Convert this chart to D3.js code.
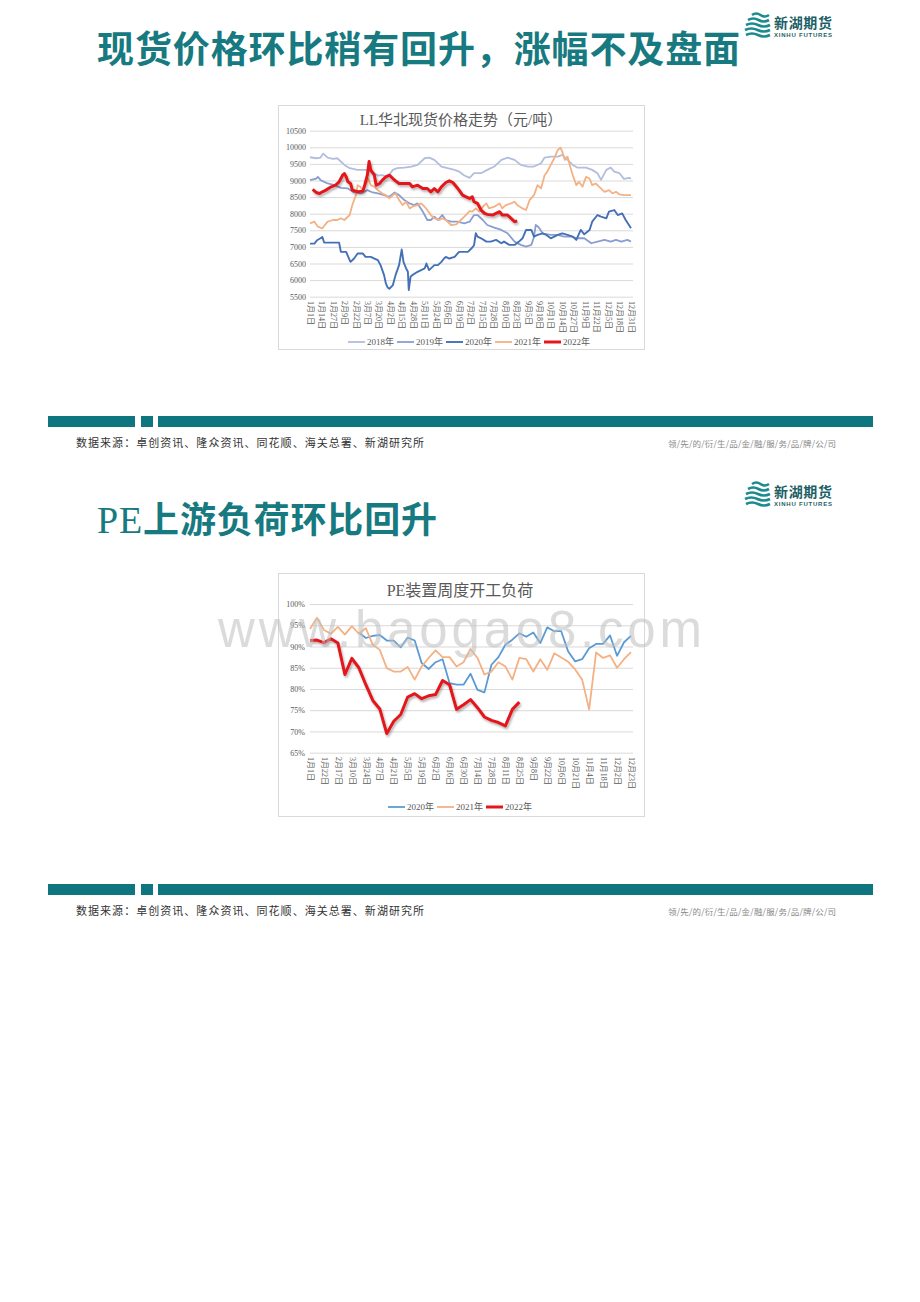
<!DOCTYPE html>
<html><head><meta charset="utf-8">
<script src="https://cdn.jsdelivr.net/npm/d3@7"></script>
<style>body{margin:0;background:#fff}</style>
</head><body>
<svg id="page" width="920" height="1302"></svg>
<script>
// ---------------- DATA ----------------
const pageTitle1 = "现货价格环比稍有回升，涨幅不及盘面";
const pageTitle2Latin = "PE";
const pageTitle2Rest = "上游负荷环比回升";
const sourceText = "数据来源：卓创资讯、隆众资讯、同花顺、海关总署、新湖研究所";
const sloganText = "领/先/的/衍/生/品/金/融/服/务/品/牌/公/司";
const watermarkText = "www.baogao8.com";

// Chart 1: LL华北现货价格走势 (day of year, 元/吨)
const c1Title = "LL华北现货价格走势（元/吨）";
const c1TickLabels = ["1月1日","1月14日","1月27日","2月9日","2月22日","3月7日","3月20日","4月2日","4月15日","4月28日","5月11日","5月24日","6月6日","6月19日","7月2日","7月15日","7月28日","8月10日","8月23日","9月5日","9月18日","10月1日","10月14日","10月27日","11月9日","11月22日","12月5日","12月18日","12月31日"];
const c1YTicks = [5500,6000,6500,7000,7500,8000,8500,9000,9500,10000,10500];
const c1Names = ["2018年","2019年","2020年","2021年","2022年"];
const s2018 = [[0,9700],[7,9670],[12,9690],[15,9810],[20,9690],[26,9650],[31,9670],[39,9470],[45,9370],[54,9320],[63,9320],[69,9270],[73,9220],[77,9150],[82,9160],[88,9110],[94,9320],[99,9370],[107,9390],[115,9420],[122,9470],[130,9670],[135,9690],[141,9620],[149,9420],[156,9370],[164,9320],[169,9270],[175,9150],[181,9080],[186,9220],[194,9220],[201,9320],[209,9420],[217,9620],[224,9690],[232,9620],[239,9470],[247,9420],[254,9420],[262,9520],[266,9690],[273,9720],[281,9720],[286,9770],[292,9620],[298,9470],[303,9390],[313,9390],[320,9320],[326,9220],[330,9020],[336,9320],[341,9390],[345,9270],[351,9220],[356,9050],[362,9080],[364,9050]];
const s2019 = [[0,9010],[7,9060],[9,9110],[12,9010],[20,8910],[28,8860],[35,8780],[43,8760],[50,8640],[58,8610],[65,8710],[71,8640],[77,8610],[84,8560],[90,8510],[96,8640],[101,8560],[107,8410],[113,8310],[118,8260],[122,8310],[128,8060],[133,7810],[137,7810],[141,7910],[145,7810],[150,7960],[154,7810],[160,7760],[167,7760],[175,7710],[181,7760],[186,7960],[190,7960],[196,7810],[201,7660],[209,7580],[217,7510],[224,7410],[232,7160],[239,7060],[245,7010],[251,7060],[254,7300],[256,7660],[259,7600],[264,7400],[273,7360],[281,7360],[288,7310],[296,7310],[303,7260],[311,7260],[319,7110],[326,7160],[334,7210],[341,7160],[347,7210],[353,7160],[360,7210],[364,7160]];
const s2020 = [[0,7100],[5,7100],[8,7200],[12,7260],[14,7300],[16,7130],[24,7130],[33,7130],[35,6850],[41,6850],[45,6600],[46,6550],[50,6650],[54,6800],[60,6800],[63,6700],[69,6700],[73,6650],[77,6600],[80,6450],[84,6150],[86,5900],[88,5780],[90,5740],[94,5850],[97,6150],[101,6450],[104,6920],[106,6550],[109,6350],[111,6250],[112,5700],[114,6100],[116,6150],[122,6250],[126,6300],[130,6350],[132,6500],[135,6300],[141,6450],[145,6450],[149,6550],[152,6650],[154,6700],[158,6650],[164,6700],[169,6850],[179,6850],[183,6950],[186,7050],[188,7410],[190,7310],[194,7260],[200,7160],[205,7160],[211,7210],[217,7110],[220,7160],[226,7060],[232,7060],[237,7160],[241,7260],[245,7510],[251,7510],[254,7310],[258,7360],[264,7410],[268,7360],[273,7260],[281,7360],[286,7410],[292,7360],[298,7310],[302,7210],[307,7510],[311,7380],[317,7510],[320,7760],[326,7960],[330,7910],[336,7860],[339,8060],[345,8110],[349,7960],[354,8010],[358,7810],[364,7560]];
const s2021 = [[0,7710],[5,7760],[9,7610],[14,7560],[20,7760],[26,7810],[31,7810],[35,7860],[39,7810],[45,7960],[48,8260],[52,8560],[54,8860],[57,8810],[60,8710],[63,8860],[66,9060],[69,8860],[73,8810],[77,8710],[82,8610],[86,8560],[90,8460],[94,8560],[97,8610],[101,8410],[105,8260],[109,8360],[113,8160],[116,8210],[122,8260],[126,8310],[130,8210],[133,8110],[137,7960],[141,7860],[147,7810],[150,7860],[154,7810],[160,7660],[166,7680],[171,7810],[175,7910],[181,8080],[184,8060],[188,8160],[192,8060],[196,8210],[200,8310],[203,8160],[209,8210],[215,8310],[218,8160],[222,8260],[228,8310],[232,8360],[235,8260],[241,8160],[245,8110],[249,8410],[254,8560],[258,8860],[262,8760],[266,9160],[269,9260],[273,9470],[277,9670],[281,9920],[284,9990],[286,9870],[289,9620],[292,9720],[295,9420],[298,9160],[302,8860],[305,8960],[309,8810],[313,9110],[317,9060],[320,8860],[324,8910],[328,8810],[334,8660],[339,8710],[343,8610],[347,8660],[351,8580],[356,8560],[364,8560]];
const s2022 = [[3,8730],[7,8640],[11,8610],[14,8660],[18,8710],[24,8810],[29,8860],[33,8960],[37,9160],[39,9210],[41,9110],[43,8960],[46,8910],[48,8710],[54,8660],[60,8680],[62,8860],[65,9160],[67,9570],[69,9310],[73,9160],[75,8860],[79,8910],[82,9010],[86,9110],[90,9160],[94,9060],[97,8990],[101,8910],[107,8910],[113,8910],[116,8810],[122,8860],[128,8760],[133,8760],[137,8660],[141,8760],[145,8660],[149,8810],[154,8940],[158,8990],[162,8940],[166,8810],[169,8710],[173,8560],[177,8510],[181,8460],[184,8510],[186,8360],[190,8310],[194,8110],[198,8010],[201,7980],[207,7960],[211,8010],[215,8060],[218,7960],[224,7960],[228,7860],[232,7760],[235,7780]];

// Chart 2: PE装置周度开工负荷 (weekly, %)
const c2Title = "PE装置周度开工负荷";
const c2Categories = ["1月1日","1月15日","1月22日","1月29日","2月17日","2月24日","3月10日","3月17日","3月24日","3月31日","4月7日","4月14日","4月21日","4月28日","5月5日","5月12日","5月19日","5月26日","6月2日","6月9日","6月16日","6月23日","6月30日","7月7日","7月14日","7月21日","7月28日","8月4日","8月11日","8月18日","8月25日","9月1日","9月8日","9月15日","9月22日","9月29日","10月6日","10月14日","10月21日","10月28日","11月4日","11月11日","11月18日","11月25日","12月2日","12月9日","12月23日"];
const c2TickLabels = c2Categories.filter((d,i)=>i%2===0);
const c2YTicks = [65,70,75,80,85,90,95,100];
const c2Names = ["2020年","2021年","2022年"];
const p2020 = [null,null,null,null,null,null,null,93.3,92.0,92.5,92.7,91.4,91.4,89.8,92.1,91.4,86.1,84.7,86.3,87.0,81.4,81.0,81.0,83.6,79.8,79.2,85.7,87.5,90.4,91.6,93.1,92.3,93.3,90.8,94.5,93.6,93.6,88.8,86.5,87.0,89.6,90.6,90.6,92.6,87.8,91.0,92.5];
const p2021 = [94.1,96.8,93.9,93.0,94.6,92.8,94.8,93.0,94.3,90.4,89.2,84.9,84.1,84.1,85.2,82.2,85.3,87.3,89.1,87.5,87.5,85.3,86.3,89.4,87.3,83.4,84.1,86.3,85.3,82.2,87.3,87.0,84.1,87.0,84.5,88.4,87.4,86.4,84.6,82.2,75.2,88.6,87.3,87.9,85.0,87.0,88.7];
const p2022 = [91.4,91.5,90.9,91.8,90.8,83.4,87.2,85.0,81.0,77.3,75.3,69.5,72.4,74.0,78.1,78.9,77.7,78.4,78.7,82.0,81.0,75.2,76.3,77.5,75.6,73.4,72.6,72.1,71.3,75.2,76.9];

// ---------------- DRAWING ----------------
const svg = d3.select('#page');
svg.append('rect').attr('width',920).attr('height',1302).attr('fill','#fff');
const defs = svg.append('defs');
const flt = defs.append('filter').attr('id','shadow').attr('x','-5%').attr('y','-10%').attr('width','115%').attr('height','130%');
flt.append('feDropShadow').attr('dx',1.2).attr('dy',2).attr('stdDeviation',1.2).attr('flood-color','#000').attr('flood-opacity',0.3);

const TEAL = '#0f7680';
const SERIF = "'Liberation Serif','Noto Sans CJK SC',serif";
const SANS = "'Noto Sans CJK SC','Noto Sans',sans-serif";

function drawLogo(oy){
  const g = svg.append('g').attr('transform',`translate(0,${oy})`);
  const waves = [[752,769,15],[748,769,20],[746,770,25],[745,770,30],[746,770,35]];
  waves.forEach(w=>{
    const [x0,x1,y]=w; const m=(x0+x1)/2;
    g.append('path').attr('d',`M${x0},${y} Q${(x0+m)/2},${y-3} ${m},${y} T${x1},${y}`)
      .attr('fill','none').attr('stroke','#1c8a8e').attr('stroke-width',2.6);
  });
  g.append('text').attr('x',774).attr('y',28).text('新湖期货').attr('font-family',SANS).attr('font-weight',700)
    .attr('font-size',14).attr('fill','#1d5f66').attr('textLength',58);
  g.append('text').attr('x',774).attr('y',36.5).text('XINHU FUTURES').attr('font-family',"'Liberation Sans',sans-serif").attr('font-weight',700)
    .attr('font-size',6).attr('fill','#1d5f66').attr('textLength',58);
}

function drawFooter(oy){
  [[48,135],[141,153],[158,873]].forEach(s=>{
    svg.append('rect').attr('x',s[0]).attr('y',416+oy).attr('width',s[1]-s[0]).attr('height',11).attr('fill',TEAL);
  });
  svg.append('text').attr('x',76).attr('y',447+oy).text(sourceText).attr('font-family',SERIF)
    .attr('font-size',11).attr('fill','#333').attr('textLength',348);
  svg.append('text').attr('x',668).attr('y',447+oy).text(sloganText).attr('font-family',SANS)
    .attr('font-size',8.5).attr('fill','#888').attr('textLength',168);
}

function drawLegend(cx, y, names, colors, widths){
  const g = svg.append('g');
  const items = names.map((n,i)=>{
    const it = g.append('g');
    it.append('line').attr('x1',0).attr('x2',17).attr('y1',0).attr('y2',0).attr('stroke',colors[i]).attr('stroke-width',widths[i]);
    const t = it.append('text').attr('x',19).attr('y',0).attr('dy','0.35em').text(n).attr('font-family',SERIF).attr('font-size',9).attr('fill','#595959');
    return {it, w: 19 + t.node().getComputedTextLength()};
  });
  const gap = 3;
  const total = d3.sum(items, d=>d.w) + gap*(items.length-1);
  let x = cx - total/2;
  items.forEach(d=>{ d.it.attr('transform',`translate(${x},${y})`); x += d.w + gap; });
}

// Section 1
svg.append('text').attr('x',97).attr('y',63).text(pageTitle1).attr('font-family',SANS).attr('font-weight',700)
  .attr('font-size',37).attr('fill','#177a80').attr('textLength',643).attr('lengthAdjust','spacing');
drawLogo(0);
svg.append('rect').attr('x',278.5).attr('y',105.5).attr('width',366).attr('height',244).attr('fill','#fff').attr('stroke','#d9d9d9');
svg.append('text').attr('x',461).attr('y',125).attr('text-anchor','middle').text(c1Title).attr('font-family',SERIF)
  .attr('font-size',15).attr('fill','#595959');

const x1 = d3.scaleLinear().domain([0,364]).range([310,631]);
const y1 = d3.scaleLinear().domain([5500,10500]).range([296.7,130.7]);
const g1 = svg.append('g');
g1.append('g').attr('transform','translate(310,0)')
  .call(d3.axisLeft(y1).tickValues(c1YTicks).tickSize(-323).tickFormat(d3.format('d')))
  .call(g=>{ g.select('.domain').remove();
    g.selectAll('.tick line').attr('stroke','#d9d9d9');
    g.selectAll('.tick text').attr('x',-4).attr('font-family',SERIF).attr('font-size',8).attr('fill','#595959'); });
g1.append('g').attr('transform','translate(0,297)')
  .call(d3.axisBottom(x1).tickValues(c1TickLabels.map((d,i)=>i*13)).tickSize(0).tickFormat((d,i)=>c1TickLabels[i]))
  .call(g=>{ g.select('.domain').remove();
    g.selectAll('.tick text').attr('transform','rotate(90)').attr('text-anchor','start').attr('x',4).attr('y',0).attr('dy','0.35em')
      .attr('font-family',SERIF).attr('font-size',8).attr('fill','#595959'); });

const c1Colors = ['#b3bedf','#8b9dd1','#4470b8','#f4b183','#e3171c'];
const c1Widths = [1.8,1.8,1.9,1.8,3];
const line1 = d3.line().x(d=>x1(d[0])).y(d=>y1(d[1]));
[s2018,s2019,s2020,s2021,s2022].forEach((s,i)=>{
  const p = g1.append('path').datum(s).attr('d',line1).attr('fill','none').attr('stroke',c1Colors[i])
    .attr('stroke-width',c1Widths[i]).attr('stroke-linejoin','round');
  if(i===4) p.attr('filter','url(#shadow)');
});
drawLegend(469, 342, c1Names, c1Colors, c1Widths);
drawFooter(0);

// Section 2
const t2 = svg.append('text').attr('x',97).attr('y',533).attr('fill','#177a80');
t2.append('tspan').text(pageTitle2Latin).attr('font-family',SERIF).attr('font-size',38);
t2.append('tspan').text(pageTitle2Rest).attr('font-family',SANS).attr('font-weight',700).attr('font-size',36);
t2.attr('textLength',340).attr('lengthAdjust','spacing');
drawLogo(469);
svg.append('rect').attr('x',278.5).attr('y',573.5).attr('width',366).attr('height',243).attr('fill','#fff').attr('stroke','#d9d9d9');
svg.append('text').attr('x',460).attr('y',596).attr('text-anchor','middle').text(c2Title).attr('font-family',SERIF)
  .attr('font-size',16).attr('fill','#595959');

const x2 = d3.scalePoint().domain(c2Categories).range([310,631]);
const y2 = d3.scaleLinear().domain([65,100]).range([752.7,604]);
const g2 = svg.append('g');
g2.append('g').attr('transform','translate(310,0)')
  .call(d3.axisLeft(y2).tickValues(c2YTicks).tickSize(-323).tickFormat(d=>d+'%'))
  .call(g=>{ g.select('.domain').remove();
    g.selectAll('.tick line').attr('stroke','#d9d9d9');
    g.selectAll('.tick text').attr('x',-5).attr('font-family',SERIF).attr('font-size',8).attr('fill','#595959'); });
g2.append('g').attr('transform','translate(0,753)')
  .call(d3.axisBottom(x2).tickValues(c2TickLabels).tickSize(0))
  .call(g=>{ g.select('.domain').remove();
    g.selectAll('.tick text').attr('transform','rotate(90)').attr('text-anchor','start').attr('x',4).attr('y',0).attr('dy','0.35em')
      .attr('font-family',SERIF).attr('font-size',8).attr('fill','#595959'); });

const c2Colors = ['#5b9bd5','#f4b183','#e3171c'];
const c2Widths = [1.8,1.8,3];
const line2 = d3.line().defined(d=>d[1]!=null).x(d=>x2(d[0])).y(d=>y2(d[1]));
[p2020,p2021,p2022].forEach((s,i)=>{
  const pts = s.map((v,j)=>[c2Categories[j],v]);
  const p = g2.append('path').datum(pts).attr('d',line2).attr('fill','none').attr('stroke',c2Colors[i])
    .attr('stroke-width',c2Widths[i]).attr('stroke-linejoin','round');
  if(i===2) p.attr('filter','url(#shadow)');
});
drawLegend(460, 807, c2Names, c2Colors, c2Widths);
drawFooter(468);

// Watermark
svg.append('text').attr('x',218).attr('y',647).text(watermarkText).attr('font-family',"'Liberation Sans',Arial,sans-serif")
  .attr('font-size',51).attr('fill','#bdbdbd').attr('fill-opacity',0.55).attr('textLength',484).attr('lengthAdjust','spacing');
</script>
</body></html>
